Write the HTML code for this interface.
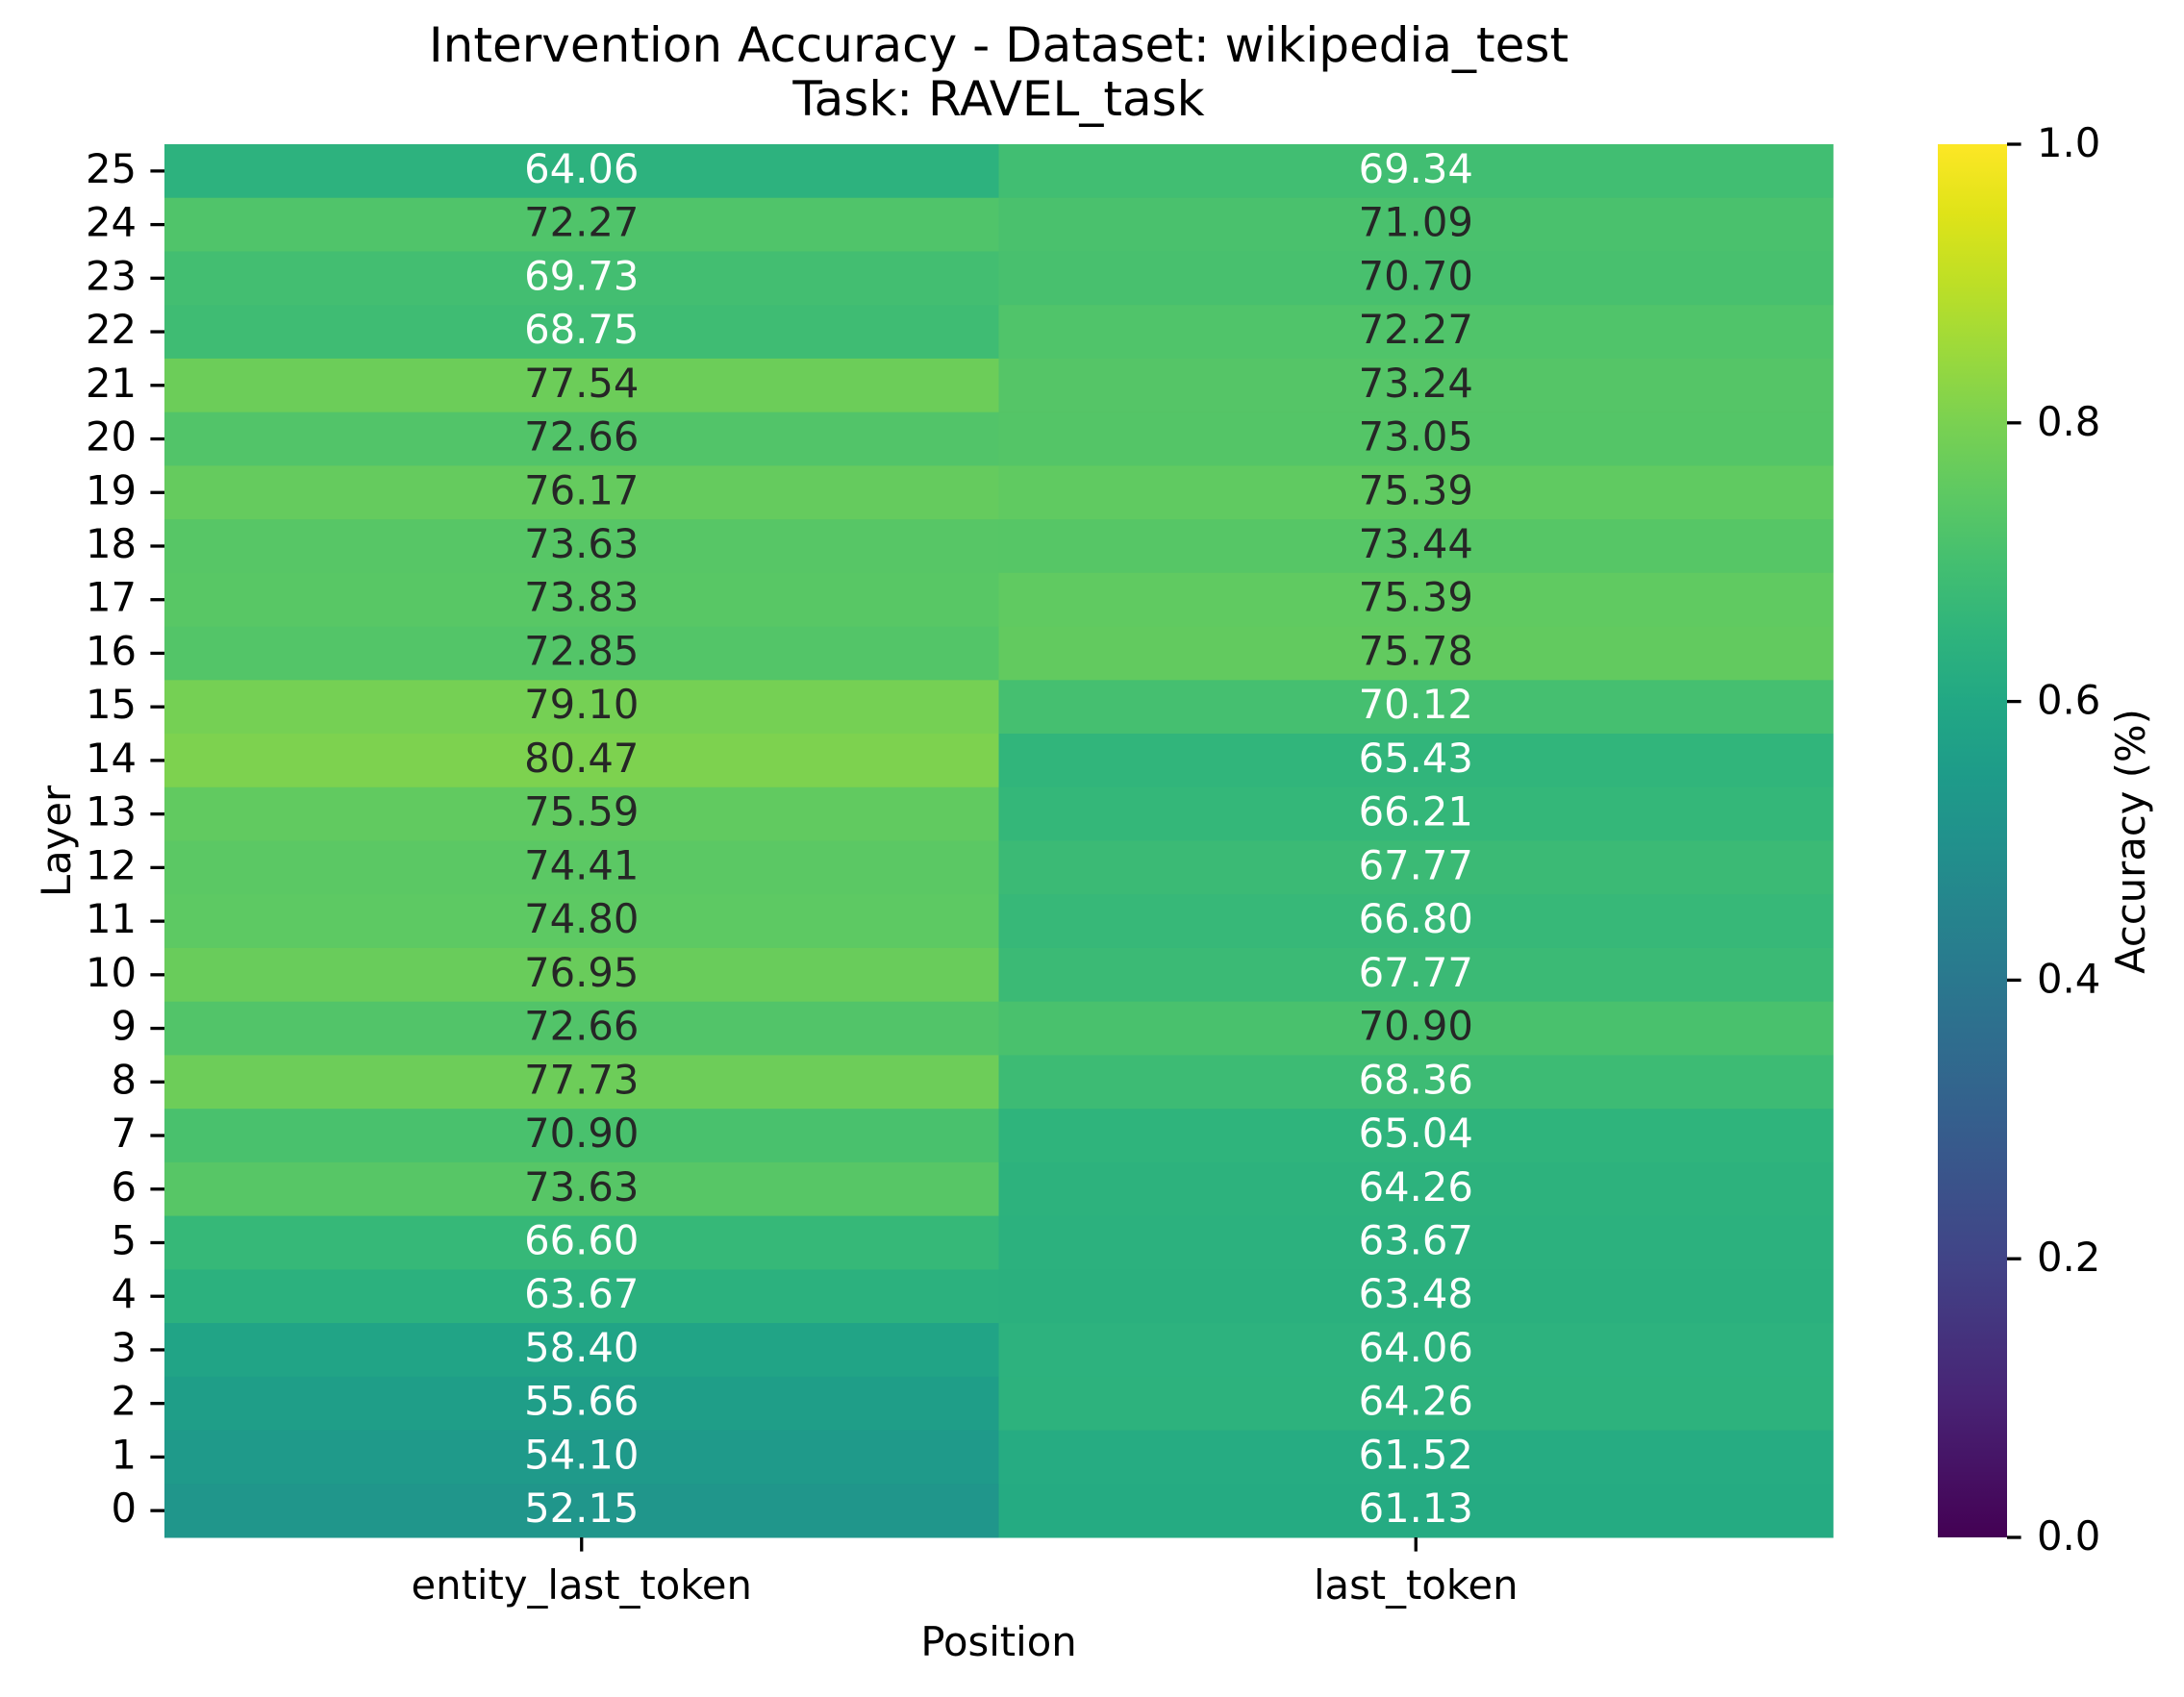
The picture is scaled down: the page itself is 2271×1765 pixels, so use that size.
<!DOCTYPE html>
<html><head><meta charset="utf-8"><style>
html,body{margin:0;padding:0;background:#fff;}
svg text{font-family:"DejaVu Sans","Liberation Sans",sans-serif;}
</style></head><body>
<svg id="chart" width="2271" height="1760" viewBox="0 0 2271 1760" xmlns="http://www.w3.org/2000/svg">
<defs>
<linearGradient id="vir" x1="0" y1="1" x2="0" y2="0"></linearGradient>
</defs>
<rect width="2271" height="1760" fill="#fff"/>
<text x="1038.5" y="64" font-size="50" text-anchor="middle">Intervention Accuracy - Dataset: wikipedia_test</text>
<text x="1038.5" y="120" font-size="50" text-anchor="middle">Task: RAVEL_task</text>
<g id="cells"></g>
<g id="yticks"></g>
<g id="xticks"></g>
<text x="1038.5" y="1722" font-size="41.7" text-anchor="middle">Position</text>
<text x="0" y="0" font-size="41.7" text-anchor="middle" transform="translate(73,875) rotate(-90)">Layer</text>
<rect x="2015" y="150" width="72" height="1449" fill="url(#vir)"/>
<g id="cticks"></g>
<text x="0" y="0" font-size="41.7" text-anchor="middle" transform="translate(2230,875) rotate(-90)">Accuracy (%)</text>
</svg>
<script>
const layers = [25,24,23,22,21,20,19,18,17,16,15,14,13,12,11,10,9,8,7,6,5,4,3,2,1,0];
const positions = ["entity_last_token","last_token"];
const entityValues = [64.06,72.27,69.73,68.75,77.54,72.66,76.17,73.63,73.83,72.85,79.10,80.47,75.59,74.41,74.80,76.95,72.66,77.73,70.90,73.63,66.60,63.67,58.40,55.66,54.10,52.15];
const lastValues = [69.34,71.09,70.70,72.27,73.24,73.05,75.39,73.44,75.39,75.78,70.12,65.43,66.21,67.77,66.80,67.77,70.90,68.36,65.04,64.26,63.67,63.48,64.06,64.26,61.52,61.13];
const colorbarTicks = [0.0,0.2,0.4,0.6,0.8,1.0];

const vir = [[0,"#440154"],[0.1,"#482475"],[0.2,"#414487"],[0.3,"#355f8d"],[0.4,"#2a788e"],[0.5,"#21918c"],[0.55,"#1e9c89"],[0.6,"#22a884"],[0.65,"#2fb47c"],[0.7,"#44bf70"],[0.75,"#5ec962"],[0.8,"#7ad151"],[0.85,"#9bd93c"],[0.9,"#bddf26"],[0.95,"#dfe318"],[1,"#fde725"]];
function hex(h){return [1,3,5].map(i=>parseInt(h.substr(i,2),16));}
function cmap(t){t=Math.max(0,Math.min(1,t));for(let i=1;i<vir.length;i++){if(t<=vir[i][0]){const a=vir[i-1],b=vir[i];const f=(t-a[0])/(b[0]-a[0]);const ca=hex(a[1]),cb=hex(b[1]);return ca.map((v,k)=>Math.round(v+(cb[k]-v)*f));}}return hex(vir[vir.length-1][1]);}
function lum(c){const l=c.map(v=>{v/=255;return v<=0.03928?v/12.92:Math.pow((v+0.055)/1.055,2.4);});return 0.2126*l[0]+0.7152*l[1]+0.0722*l[2];}
const LUM_T = lum(cmap(0.705));

const NS="http://www.w3.org/2000/svg";
const X0=171,X1=1906,Y0=150,Y1=1599;
const cw=(X1-X0)/positions.length, rh=(Y1-Y0)/layers.length;
function xPos(i){return X0+i*cw;}
function yPos(i){return Y0+i*rh;}
function mk(tag,attrs,parent){const e=document.createElementNS(NS,tag);for(const k in attrs)e.setAttribute(k,attrs[k]);parent.appendChild(e);return e;}

const grad=document.getElementById('vir');
vir.forEach(s=>{mk('stop',{offset:s[0],'stop-color':s[1]},grad);});

const cells=document.getElementById('cells');
const series=[entityValues,lastValues];
series.forEach((vals,ci)=>{
  vals.forEach((v,ri)=>{
    const c=cmap(v/100);
    const r=mk('rect',{x:xPos(ci),y:yPos(ri),width:cw+0.5,height:rh+0.5,fill:`rgb(${c.join(',')})`},cells);
    
    
    const t=mk('text',{x:xPos(ci)+cw/2,y:yPos(ri)+rh/2+12,'font-size':41.7,'text-anchor':'middle',fill:lum(c)>LUM_T?'#262626':'#ffffff'},cells);
    
    
    t.textContent=v.toFixed(2);
  });
});

const yt=document.getElementById('yticks');
layers.forEach((L,ri)=>{
  const y=yPos(ri)+rh/2;
  const ln=mk('line',{x1:X0-14.6,x2:X0,y1:y,y2:y,stroke:'#000','stroke-width':3.3},yt);
  
  
  const t=mk('text',{x:X0-29,y:y+12,'font-size':41.7,'text-anchor':'end'},yt);
  
  
  t.textContent=L;
});
const xt=document.getElementById('xticks');
positions.forEach((p,ci)=>{
  const x=xPos(ci)+cw/2;
  const ln=mk('line',{x1:x,x2:x,y1:Y1,y2:Y1+14.6,stroke:'#000','stroke-width':3.3},xt);
  
  
  const t=mk('text',{x:x,y:1663,'font-size':41.7,'text-anchor':'middle'},xt);
  
  
  t.textContent=p;
});
const ct=document.getElementById('cticks');
colorbarTicks.forEach(v=>{
  const y=Y1-(Y1-Y0)*v;
  const ln=mk('line',{x1:2087,x2:2101.6,y1:y,y2:y,stroke:'#000','stroke-width':3.3},ct);
  
  
  const t=mk('text',{x:2118,y:y+13,'font-size':41.7},ct);
  
  
  t.textContent=v.toFixed(1);
});
</script>
</body></html>
